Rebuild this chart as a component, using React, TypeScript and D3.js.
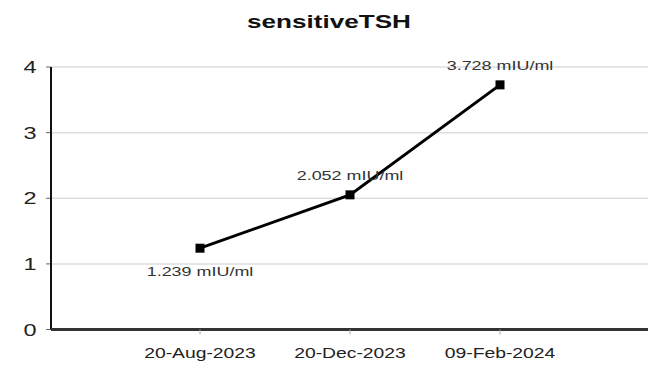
import React from "react";
import * as d3 from "d3";

const categories = ["20-Aug-2023", "20-Dec-2023", "09-Feb-2024"];
const values = [1.239, 2.052, 3.728];
const labels = ["1.239 mIU/ml", "2.052 mIU/ml", "3.728 mIU/ml"];
const labelBelow = [true, false, false];
const yTicks = [0, 1, 2, 3, 4];
const title = "sensitiveTSH";

const font = "Liberation Sans, Arial, sans-serif";
const SX = 1.38;

function T(props: { x: number; y: number; size: number; bold?: boolean; fill?: string; sx?: number; children: string }) {
  const { x, y, size, bold, fill, sx, children } = props;
  return (
    <text
      transform={`translate(${x},${y}) scale(${sx ?? SX},1)`}
      textAnchor="middle"
      fontFamily={font}
      fontWeight={bold ? "bold" : "normal"}
      fontSize={size}
      fill={fill ?? "#222"}
    >
      {children}
    </text>
  );
}

export default function App() {
  const W = 652, H = 371;
  const x = d3.scaleLinear().domain([0, 4]).range([50, 650]);
  const y = d3.scaleLinear().domain([0, 4]).range([329.5, 67]);
  const line = d3.line<number>().x((_, i) => x(i + 1)).y((d) => y(d));
  return (
    <svg width={W} height={H} style={{ position: "absolute", left: 0, top: 0 }}>
      <rect width={W} height={H} fill="#fff" />
      <T x={329} y={28} size={18} bold fill="#111" sx={1.45}>{title}</T>
      {yTicks.map((t) => (
        <g key={t}>
          {t > 0 && <line x1={51} x2={648} y1={y(t)} y2={y(t)} stroke="#ddd" strokeWidth={1.5} />}
          <line x1={46} x2={51} y1={y(t)} y2={y(t)} stroke="#666" strokeWidth={1} />
          <T x={30} y={y(t) + 6} size={17} fill="#222">{String(t)}</T>
        </g>
      ))}
      <line x1={51} x2={51} y1={y(4)} y2={y(0)} stroke="#111" strokeWidth={2} />
      <line x1={51} x2={648} y1={y(0)} y2={y(0)} stroke="#333" strokeWidth={3} />
      {categories.map((c, i) => (
        <g key={c}>
          <line x1={x(i + 1)} x2={x(i + 1)} y1={y(0)} y2={y(0) + 5} stroke="#aaa" strokeWidth={1} />
          <T x={x(i + 1)} y={358} size={14}>{c}</T>
        </g>
      ))}
      <path d={line(values) || ""} fill="none" stroke="#000" strokeWidth={3} />
      {values.map((v, i) => (
        <g key={i}>
          <rect x={x(i + 1) - 4.5} y={y(v) - 4.5} width={9} height={9} fill="#000" />
          <T x={x(i + 1)} y={labelBelow[i] ? y(v) + 28 : y(v) - 15} size={13} fill="#333">{labels[i]}</T>
        </g>
      ))}
    </svg>
  );
}
